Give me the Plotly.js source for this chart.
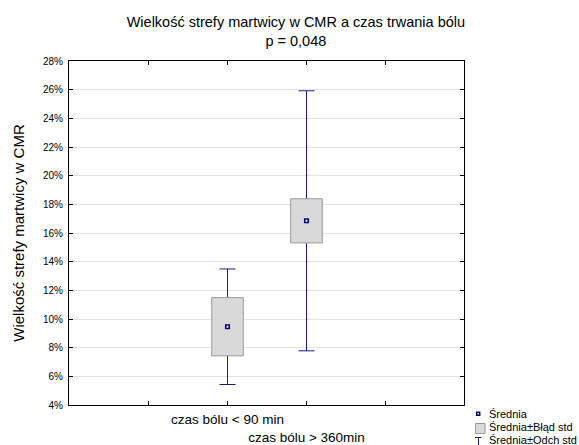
<!DOCTYPE html>
<html><head><meta charset="utf-8">
<script src="https://cdn.plot.ly/plotly-3.0.1.min.js"></script>
<style>html,body{margin:0;padding:0;background:#fff}</style>
</head><body>
<div id="chart" style="width:579px;height:445px"></div>
<script>
// ---- data ----
const categories = ['czas bólu < 90 min', 'czas bólu > 360min'];
const means = [9.46, 16.85];
const stdErr = [2.03, 1.54];
const stdDev = [4.03, 9.07];
const yTickVals = [4, 6, 8, 10, 12, 14, 16, 18, 20, 22, 24, 26, 28];
const legendLabels = ['Średnia', 'Średnia±Błąd std', 'Średnia±Odch std'];
const titleText = 'Wielkość strefy martwicy w CMR a czas trwania bólu<br>p = 0,048';
const yTitle = 'Wielkość strefy martwicy w CMR';

// ---- derived ----
const xs = categories.map((c, i) => i + 2);
const boxBase = means.map((m, i) => m - stdErr[i]);
const boxLen = stdErr.map(s => 2 * s);

const FONT = 'Liberation Sans, Arial, sans-serif';
const WHISK = '#1c1c88';
const NAVY = '#000080';

// pixel helpers for legend decoration (plot area: x 69..464, y 61..405)
const L = 69, R = 464, T = 61, B = 405;
const px = v => (v - L) / (R - L);
const py = v => (B - v) / (B - T);
const halfPx = 0.5 / ((R - L) / 5); // keep 1px whiskers pixel-crisp

const traces = [
  {
    type: 'bar', x: xs, y: means, width: 0.4,
    marker: {color: 'rgba(0,0,0,0)', line: {width: 0}},
    error_y: {type: 'data', array: stdDev, visible: true, color: WHISK, thickness: 1, width: 8},
    hoverinfo: 'skip', showlegend: false
  },
  {
    type: 'bar', x: xs, base: boxBase, y: boxLen, width: 0.4,
    marker: {color: '#d9d9d9', line: {color: '#9a9a9a', width: 1}},
    name: legendLabels[1], showlegend: false
  },
  {
    type: 'scatter', mode: 'markers', x: xs, y: means,
    marker: {symbol: 'square', size: 3.5, color: '#ffffff', line: {color: NAVY, width: 1.6}},
    name: legendLabels[0], showlegend: false
  }
];

const shapes = [
  {type: 'rect', xref: 'paper', yref: 'paper', x0: px(476.7), x1: px(479.7), y0: py(412.2), y1: py(415.2),
   fillcolor: '#ffffff', line: {color: NAVY, width: 1.5}},
  {type: 'rect', xref: 'paper', yref: 'paper', x0: px(475.5), x1: px(485), y0: py(423.5), y1: py(433.5),
   fillcolor: '#d9d9d9', line: {color: '#9a9a9a', width: 1}},
  {type: 'line', xref: 'paper', yref: 'paper', x0: px(475), x1: px(481.5), y0: py(437.5), y1: py(437.5),
   line: {color: WHISK, width: 1}},
  {type: 'line', xref: 'paper', yref: 'paper', x0: px(478.5), x1: px(478.5), y0: py(437.5), y1: py(452),
   line: {color: WHISK, width: 1}}
];

const legendY = [414, 427, 440];
const annotations = legendLabels.map((t, i) => ({
  text: t, xref: 'paper', yref: 'paper', x: px(486.5), y: py(legendY[i]),
  xanchor: 'left', yanchor: 'middle', showarrow: false,
  font: {family: FONT, size: 11, color: '#000'}
}));

const layout = {
  width: 579, height: 445,
  paper_bgcolor: '#fff', plot_bgcolor: '#fff',
  font: {family: FONT, color: '#000'},
  margin: {l: L, r: 579 - R, t: T, b: 445 - B, autoexpand: false},
  barmode: 'overlay',
  showlegend: false,
  title: {text: titleText, font: {family: FONT, size: 14.5, color: '#000'},
          xref: 'container', x: 0.511, xanchor: 'center',
          yref: 'container', y: 1 - 27 / 445, yanchor: 'top'},
  xaxis: {
    range: [0 - halfPx, 5 - halfPx], tickmode: 'array', tickvals: [1, 2, 3, 4],
    ticktext: ['', categories[0], '<br>' + categories[1], ''],
    ticks: 'inside', ticklen: 4, tickcolor: '#000', tickangle: 0,
    ticklabelstandoff: 2,
    showline: true, linecolor: '#000', linewidth: 1, mirror: 'ticks',
    showgrid: false, zeroline: false,
    tickfont: {family: FONT, size: 13.5, color: '#000'}
  },
  yaxis: {
    range: [4, 28], tickmode: 'array', tickvals: yTickVals,
    ticktext: yTickVals.map(v => v + '%'),
    ticks: 'inside', ticklen: 4, tickcolor: '#000',
    ticklabelstandoff: 3,
    showline: true, linecolor: '#000', linewidth: 1, mirror: 'ticks',
    showgrid: true, gridcolor: '#e3e3e3', gridwidth: 1, zeroline: false,
    tickfont: {family: FONT, size: 10, color: '#000'},
    title: {text: yTitle, font: {family: FONT, size: 15, color: '#000'}, standoff: 14}
  },
  shapes: shapes,
  annotations: annotations
};

Plotly.newPlot('chart', traces, layout, {staticPlot: true, displayModeBar: false});
</script>
</body></html>
